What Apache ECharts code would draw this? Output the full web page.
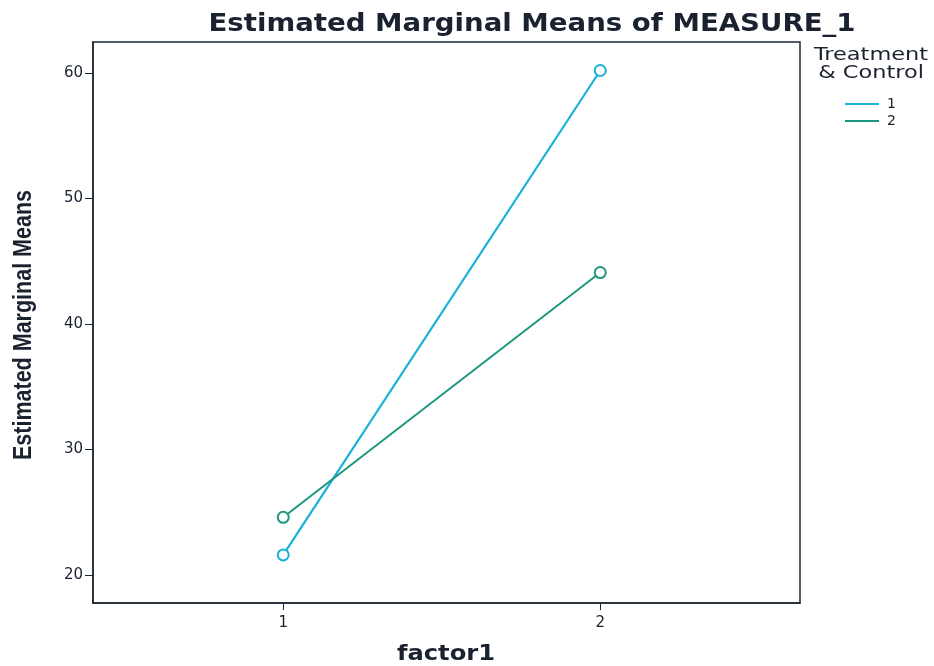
<!DOCTYPE html>
<html><head><meta charset="utf-8">
<script src="https://cdn.jsdelivr.net/npm/echarts@6/dist/echarts.min.js"></script>
<style>html,body{margin:0;padding:0;background:#fff}#c{width:934px;height:666px}</style>
</head><body><div id="c"></div>
<script>
const categories = [1, 2];
const seriesNames = ['1', '2'];
const group1 = [21.6, 60.2];
const group2 = [24.6, 44.1];
const yTicks = [20, 30, 40, 50, 60];

const chart = echarts.init(document.getElementById('c'));
const font = 'DejaVu Sans, Liberation Sans, sans-serif';
const ink = '#1a2230';
chart.setOption({
  animation: false,
  backgroundColor: '#fff',
  graphic: [
    {type: 'text', x: 532, y: 13, scaleX: 1.15,
     style: {text: 'Estimated Marginal Means of MEASURE_1', fontFamily: font, fontSize: 24, fontWeight: 'bold', fill: ink, align: 'center', verticalAlign: 'top'}},
    {type: 'text', x: 871, y: 47, scaleX: 1.32,
     style: {text: 'Treatment\n& Control', fontFamily: font, fontSize: 17, lineHeight: 18, fill: ink, align: 'center', verticalAlign: 'top'}},
    {type: 'text', x: 446, y: 643, scaleX: 1.1,
     style: {text: 'factor1', fontFamily: font, fontSize: 22, fontWeight: 'bold', fill: ink, align: 'center', verticalAlign: 'top'}},
    {type: 'text', x: 24, y: 325, rotation: Math.PI / 2, scaleX: 0.86,
     style: {text: 'Estimated Marginal Means', fontFamily: 'Liberation Sans Narrow, Liberation Sans, Arial, sans-serif', fontSize: 25, fontWeight: 'bold', fill: ink, align: 'center', verticalAlign: 'middle'}}
  ],
  legend: {
    orient: 'vertical', left: 840, top: 92, itemGap: 3,
    icon: 'rect', itemWidth: 34, itemHeight: 2,
    textStyle: {fontFamily: font, fontSize: 14, color: ink, padding: [0, 0, 0, 3]},
    data: seriesNames
  },
  grid: {left: 93, right: 134, top: 42, bottom: 63, show: true, borderColor: '#1c2733', borderWidth: 1.5},
  xAxis: {
    type: 'value', min: 0.4, max: 2.63,
    axisLine: {show: true, lineStyle: {color: '#1c2733', width: 1.5}},
    axisTick: {show: true, length: 7, customValues: categories, lineStyle: {color: '#1c2733'}},
    axisLabel: {customValues: categories, fontFamily: font, fontSize: 15, color: ink, margin: 13},
    splitLine: {show: false}
  },
  yAxis: {
    type: 'value', min: 17.77, max: 62.47,
    axisLine: {show: true, lineStyle: {color: '#1c2733', width: 1.5}},
    axisTick: {show: true, length: 8, customValues: yTicks, lineStyle: {color: '#1c2733'}},
    axisLabel: {customValues: yTicks, fontFamily: font, fontSize: 15, color: ink, margin: 10},
    splitLine: {show: false}
  },
  series: [
    {name: seriesNames[0], type: 'line', data: categories.map((c, i) => [c, group1[i]]),
     symbol: 'emptyCircle', symbolSize: 11, color: '#1ab0dc',
     lineStyle: {width: 2.2, color: '#1ab0dc'}, itemStyle: {color: '#1ab0dc', borderWidth: 1.5}},
    {name: seriesNames[1], type: 'line', data: categories.map((c, i) => [c, group2[i]]),
     symbol: 'emptyCircle', symbolSize: 11, color: '#1d9880',
     lineStyle: {width: 2, color: '#1d9880'}, itemStyle: {color: '#1d9880', borderWidth: 1.5}}
  ]
});
</script></body></html>
